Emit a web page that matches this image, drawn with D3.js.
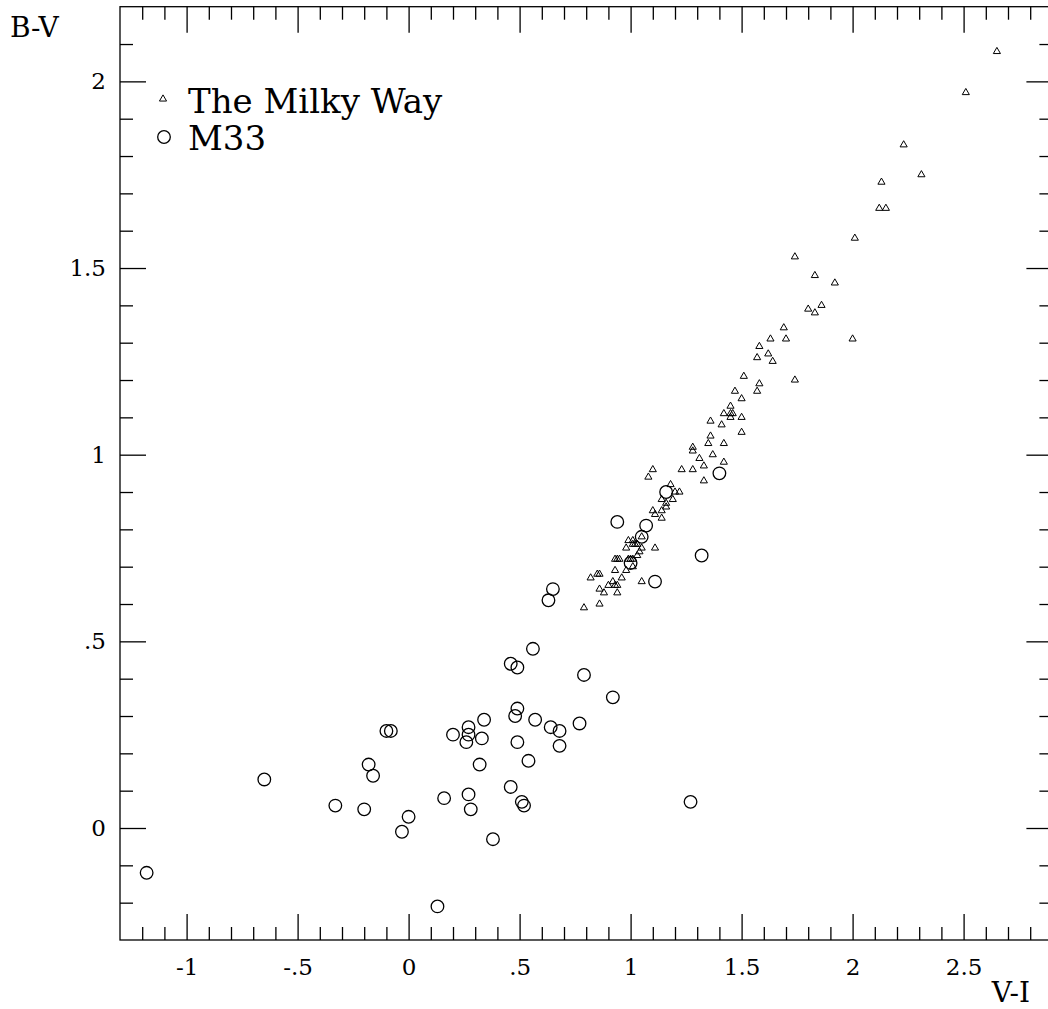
<!DOCTYPE html>
<head>
    <title>B-V vs V-I</title>
    <script src="https://d3js.org/d3.v7.min.js"></script>
    <style>
        body { margin: 0; background: white; }
        text { font-family: "DejaVu Serif", serif; fill: black; }
        .tick text { font-size: 23px; }
        .axis path, .axis line { stroke: black; stroke-width: 1.3px; }
    </style>
</head>
<body>
    <svg id="chart" width="1048" height="1009"></svg>
    <script>

        // Milky Way stars (V-I, B-V)
        var mwVI = [2.65, 2.51, 2.23, 2.31, 2.13, 2.12, 2.15, 2.01, 1.74, 1.83, 1.92, 1.80, 1.83, 1.86, 1.69,
            1.63, 1.70, 2.00, 1.58, 1.57, 1.62, 1.64, 1.51, 1.58, 1.57, 1.74, 1.47, 1.50, 1.45, 1.42,
            1.45, 1.46, 1.45, 1.50, 1.36, 1.41, 1.50, 1.36, 1.35, 1.42, 1.37, 1.31, 1.33, 1.42, 1.33,
            1.28, 1.28, 1.23, 1.28, 1.10, 1.08, 1.18, 1.20, 1.22, 1.14, 1.19, 1.16, 1.16, 1.14, 1.10,
            1.11, 1.14, 0.99, 1.01, 1.05, 0.98, 1.01, 1.02, 1.03, 1.05, 1.11, 1.04, 1.03, 0.93, 0.94,
            0.95, 0.99, 1.00, 1.01, 1.01, 0.93, 0.98, 0.96, 1.05, 0.82, 0.85, 0.86, 0.90, 0.92, 0.93,
            0.94, 0.86, 0.88, 0.94, 0.79, 0.86];
        var mwBV = [2.08, 1.97, 1.83, 1.75, 1.73, 1.66, 1.66, 1.58, 1.53, 1.48, 1.46, 1.39, 1.38, 1.40, 1.34,
            1.31, 1.31, 1.31, 1.29, 1.26, 1.27, 1.25, 1.21, 1.19, 1.17, 1.20, 1.17, 1.15, 1.13, 1.11,
            1.11, 1.11, 1.10, 1.10, 1.09, 1.08, 1.06, 1.05, 1.03, 1.03, 1.00, 0.99, 0.97, 0.98, 0.93,
            1.02, 1.01, 0.96, 0.96, 0.96, 0.94, 0.92, 0.90, 0.90, 0.88, 0.88, 0.87, 0.86, 0.85, 0.85,
            0.84, 0.83, 0.77, 0.77, 0.78, 0.75, 0.76, 0.76, 0.76, 0.75, 0.75, 0.74, 0.73, 0.72, 0.72,
            0.72, 0.72, 0.72, 0.72, 0.70, 0.69, 0.69, 0.67, 0.66, 0.67, 0.68, 0.68, 0.65, 0.66, 0.65,
            0.65, 0.64, 0.63, 0.63, 0.59, 0.60];

        // M33 objects (V-I, B-V)
        var m33VI = [-1.18, -0.65, -0.33, -0.20, -0.18, -0.16, -0.10, -0.08, -0.03, 0.00, 0.13, 0.16, 0.20,
            0.27, 0.27, 0.26, 0.27, 0.28, 0.32, 0.33, 0.34, 0.38, 0.46, 0.49, 0.49, 0.48, 0.49, 0.46,
            0.51, 0.52, 0.54, 0.56, 0.57, 0.64, 0.68, 0.68, 0.77, 0.79, 0.92, 1.27, 0.65, 0.63, 0.94,
            1.07, 1.05, 1.00, 1.16, 1.32, 1.11, 1.40];
        var m33BV = [-0.12, 0.13, 0.06, 0.05, 0.17, 0.14, 0.26, 0.26, -0.01, 0.03, -0.21, 0.08, 0.25,
            0.27, 0.25, 0.23, 0.09, 0.05, 0.17, 0.24, 0.29, -0.03, 0.44, 0.43, 0.32, 0.30, 0.23, 0.11,
            0.07, 0.06, 0.18, 0.48, 0.29, 0.27, 0.26, 0.22, 0.28, 0.41, 0.35, 0.07, 0.64, 0.61, 0.82,
            0.81, 0.78, 0.71, 0.90, 0.73, 0.66, 0.95];

        var xMajor = [-1, -0.5, 0, 0.5, 1, 1.5, 2, 2.5];
        var yMajor = [0, 0.5, 1, 1.5, 2];
        var legendNames = ["The Milky Way", "M33"];

        var svg = d3.select("#chart");
        var plotL = 120, plotR = 1052.4, plotT = 6.7, plotB = 940;

        var x = d3.scaleLinear().domain([-1.3, 2.9]).range([plotL, plotR]);
        var y = d3.scaleLinear().domain([-0.3, 2.2]).range([plotB, plotT]);

        var xMinor = d3.range(-12, 29).map(function (i) { return i / 10; }).filter(function (v) { return xMajor.indexOf(v) < 0; });
        var yMinor = d3.range(-2, 22).map(function (i) { return i / 10; }).filter(function (v) { return yMajor.indexOf(v) < 0; });

        function fmt(d) {
            if (d === 0) return "0";
            return String(d).replace(/^(-?)0\./, "$1.");
        }

        // frame
        svg.append("rect")
            .attr("x", plotL).attr("y", plotT)
            .attr("width", plotR - plotL).attr("height", plotB - plotT)
            .attr("fill", "none").attr("stroke", "black").attr("stroke-width", 1.3);

        // minor + major ticks on all four sides, pointing inward
        function addAxis(axisFn, transform, values, size, labels, pad) {
            var a = axisFn.tickValues(values).tickSize(-size).tickSizeOuter(0).tickPadding(pad || 3)
                .tickFormat(labels ? fmt : "");
            var g = svg.append("g").attr("class", "axis").attr("transform", transform).call(a);
            g.select(".domain").remove();
            return g;
        }

        addAxis(d3.axisBottom(x), "translate(0," + plotB + ")", xMinor, 13, false);
        addAxis(d3.axisBottom(x), "translate(0," + plotB + ")", xMajor, 26, true, 19);
        addAxis(d3.axisTop(x), "translate(0," + plotT + ")", xMinor, 13, false);
        addAxis(d3.axisTop(x), "translate(0," + plotT + ")", xMajor, 26, false);
        addAxis(d3.axisLeft(y), "translate(" + plotL + ",0)", yMinor, 13, false);
        addAxis(d3.axisLeft(y), "translate(" + plotL + ",0)", yMajor, 26, true, 14);
        addAxis(d3.axisRight(y), "translate(" + plotR + ",0)", yMinor, 13, false);
        addAxis(d3.axisRight(y), "translate(" + plotR + ",0)", yMajor, 26, false);

        // axis titles
        svg.append("text").attr("x", 10).attr("y", 37).style("font-size", "28px").text("B-V");
        svg.append("text").attr("x", 1030).attr("y", 1002).attr("text-anchor", "end")
            .style("font-size", "28px").text("V-I");

        var tri = d3.symbol().type(d3.symbolTriangle).size(22);

        // Milky Way triangles
        svg.append("g").selectAll("path")
            .data(mwVI)
            .join("path")
            .attr("d", tri)
            .attr("transform", function (d, i) { return "translate(" + x(d) + "," + y(mwBV[i]) + ")"; })
            .attr("fill", "none").attr("stroke", "black").attr("stroke-width", 1);

        // M33 circles
        svg.append("g").selectAll("circle")
            .data(m33VI)
            .join("circle")
            .attr("cx", function (d) { return x(d); })
            .attr("cy", function (d, i) { return y(m33BV[i]); })
            .attr("r", 6.3)
            .attr("fill", "none").attr("stroke", "black").attr("stroke-width", 1.3);

        // legend
        svg.append("path").attr("d", tri).attr("transform", "translate(163,99)")
            .attr("fill", "none").attr("stroke", "black").attr("stroke-width", 1);
        svg.append("circle").attr("cx", 164).attr("cy", 137).attr("r", 6.3)
            .attr("fill", "none").attr("stroke", "black").attr("stroke-width", 1.3);
        svg.append("text").attr("x", 188).attr("y", 112.5).style("font-size", "34px").text(legendNames[0]);
        svg.append("text").attr("x", 188).attr("y", 150).style("font-size", "34px").text(legendNames[1]);

    </script>
</body>
